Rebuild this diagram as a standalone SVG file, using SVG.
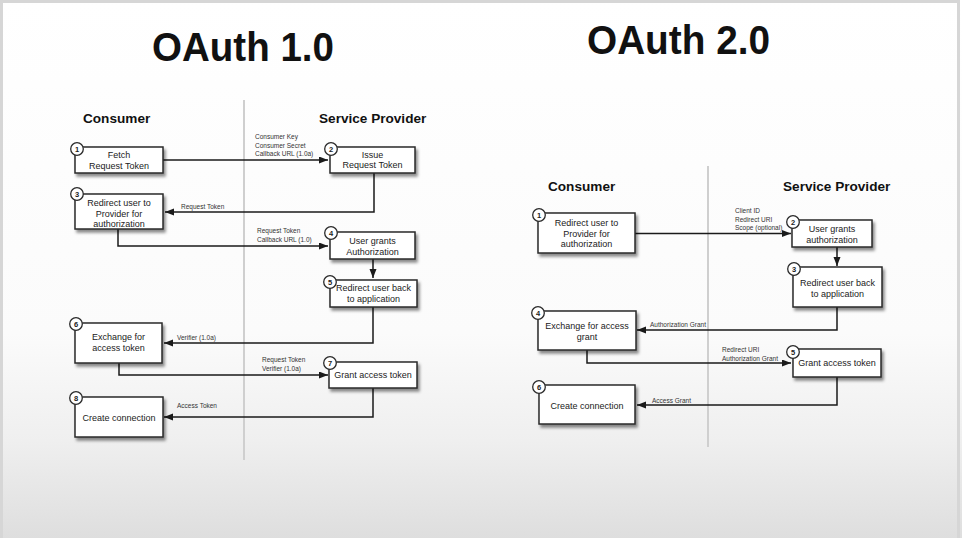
<svg xmlns="http://www.w3.org/2000/svg" width="962" height="538" viewBox="0 0 962 538">
  <defs>
    <linearGradient id="bg" x1="0" y1="0" x2="0" y2="1">
      <stop offset="0" stop-color="#ffffff"/>
      <stop offset="0.62" stop-color="#fbfbfb"/>
      <stop offset="0.82" stop-color="#efefef"/>
      <stop offset="1" stop-color="#dedede"/>
    </linearGradient>
    <filter id="shadow" x="-20%" y="-30%" width="150%" height="180%">
      <feDropShadow dx="2" dy="3" stdDeviation="1.8" flood-color="#000" flood-opacity="0.45"/>
    </filter>
    <marker id="arrow" markerUnits="userSpaceOnUse" markerWidth="10" markerHeight="8" refX="9" refY="3.5" orient="auto">
      <path d="M0,0 L9,3.5 L0,7 z" fill="#1a1a1a"/>
    </marker>
  </defs>
  <style>
    .title { font-family: "Liberation Sans", Arial, sans-serif; font-weight: bold; font-size: 41px; fill: #111; }
    .head { font-family: "Liberation Sans", Arial, sans-serif; font-weight: bold; font-size: 13.6px; fill: #111; }
    .box rect { fill: #fff; stroke: #2a2a2a; stroke-width: 1.5; filter: url(#shadow); }
    .box text { font-family: "Liberation Sans", Arial, sans-serif; font-size: 9px; fill: #222; text-anchor: middle; }
    .box circle { fill: #fff; stroke: #2a2a2a; stroke-width: 1.3; }
    .box .num { font-size: 7.5px; font-weight: bold; }
    .lbl { font-family: "Liberation Sans", Arial, sans-serif; font-size: 6.5px; fill: #333; }
    .conn path { fill: none; stroke: #1a1a1a; stroke-width: 1.5; marker-end: url(#arrow); }
    .divider { stroke: #cfcfcf; stroke-width: 2; }
  </style>

  <!-- backdrop and frame -->
  <rect x="0" y="0" width="962" height="538" fill="url(#bg)"/>
  <rect x="1.5" y="1.5" width="957" height="540" fill="none" stroke="#d6d6d6" stroke-width="3"/>

  <!-- titles -->
  <text class="title" x="152" y="61" textLength="182" lengthAdjust="spacingAndGlyphs">OAuth 1.0</text>
  <text class="title" x="587" y="54" textLength="183" lengthAdjust="spacingAndGlyphs">OAuth 2.0</text>

  <!-- swimlane dividers -->
  <line class="divider" x1="244" y1="100" x2="244" y2="460"/>
  <line class="divider" x1="708" y1="166" x2="708" y2="447"/>

  <!-- lane headings -->
  <text class="head" x="83" y="123">Consumer</text>
  <text class="head" x="319" y="123">Service Provider</text>
  <text class="head" x="548" y="191">Consumer</text>
  <text class="head" x="783" y="191">Service Provider</text>

  <!-- OAuth 1.0 connectors -->
  <g id="connectors-v1" class="conn">
    <path d="M163,160 H328"/>
    <path d="M374,173 V212 H165"/>
    <path d="M118,229 V246 H328"/>
    <path d="M373,259 V278"/>
    <path d="M373,307 V343 H164"/>
    <path d="M119,363 V375 H328"/>
    <path d="M373,388 V417 H164"/>
  </g>
  <g id="labels-v1" class="lbl">
    <text x="255" y="139">Consumer Key</text>
    <text x="255" y="147.5">Consumer Secret</text>
    <text x="255" y="156">Callback URL (1.0a)</text>
    <text x="181" y="209">Request Token</text>
    <text x="257" y="233">Request Token</text>
    <text x="257" y="241.5">Callback URL (1.0)</text>
    <text x="177" y="339.5">Verifier (1.0a)</text>
    <text x="262" y="362">Request Token</text>
    <text x="262" y="370.5">Verifier (1.0a)</text>
    <text x="177" y="407.5">Access Token</text>
  </g>

  <!-- OAuth 1.0 steps -->
  <g id="v1-step1" class="box">
    <rect x="75" y="147" width="88" height="26"/>
    <text x="119" y="158">Fetch</text>
    <text x="119" y="168.5">Request Token</text>
    <circle cx="77" cy="149" r="6.3"/>
    <text class="num" x="77" y="151.7">1</text>
  </g>
  <g id="v1-step2" class="box">
    <rect x="330" y="147" width="85" height="26"/>
    <text x="372.5" y="157.5">Issue</text>
    <text x="372.5" y="168">Request Token</text>
    <circle cx="331" cy="149" r="6.3"/>
    <text class="num" x="331" y="151.7">2</text>
  </g>
  <g id="v1-step3" class="box">
    <rect x="75" y="194" width="88" height="35"/>
    <text x="119" y="206">Redirect user to</text>
    <text x="119" y="216.5">Provider for</text>
    <text x="119" y="227">authorization</text>
    <circle cx="77" cy="194" r="6.3"/>
    <text class="num" x="77" y="196.7">3</text>
  </g>
  <g id="v1-step4" class="box">
    <rect x="330" y="232" width="85" height="27"/>
    <text x="372.5" y="244">User grants</text>
    <text x="372.5" y="254.5">Authorization</text>
    <circle cx="331" cy="233" r="6.3"/>
    <text class="num" x="331" y="235.7">4</text>
  </g>
  <g id="v1-step5" class="box">
    <rect x="330" y="280" width="87" height="27"/>
    <text x="373.5" y="291">Redirect user back</text>
    <text x="373.5" y="301.5">to application</text>
    <circle cx="330" cy="282" r="6.3"/>
    <text class="num" x="330" y="284.7">5</text>
  </g>
  <g id="v1-step6" class="box">
    <rect x="75" y="323" width="87" height="40"/>
    <text x="118.5" y="340">Exchange for</text>
    <text x="118.5" y="351">access token</text>
    <circle cx="76" cy="324" r="6.3"/>
    <text class="num" x="76" y="326.7">6</text>
  </g>
  <g id="v1-step7" class="box">
    <rect x="329" y="362" width="88" height="26"/>
    <text x="373" y="378">Grant access token</text>
    <circle cx="330" cy="363" r="6.3"/>
    <text class="num" x="330" y="365.7">7</text>
  </g>
  <g id="v1-step8" class="box">
    <rect x="75" y="397" width="88" height="40"/>
    <text x="119" y="421">Create connection</text>
    <circle cx="76" cy="398" r="6.3"/>
    <text class="num" x="76" y="400.7">8</text>
  </g>

  <!-- OAuth 2.0 connectors -->
  <g id="connectors-v2" class="conn">
    <path d="M635,233.5 H791"/>
    <path d="M837,247 V266"/>
    <path d="M837,307 V330 H637"/>
    <path d="M587,350 V363 H791"/>
    <path d="M837,377 V405 H637"/>
  </g>
  <g id="labels-v2" class="lbl">
    <text x="735" y="213">Client ID</text>
    <text x="735" y="221.5">Redirect URI</text>
    <text x="735" y="230">Scope (optional)</text>
    <text x="650" y="326.5">Authorization Grant</text>
    <text x="722" y="352">Redirect URI</text>
    <text x="722" y="360.5">Authorization Grant</text>
    <text x="652" y="402.5">Access Grant</text>
  </g>

  <!-- OAuth 2.0 steps -->
  <g id="v2-step1" class="box">
    <rect x="538" y="213" width="97" height="40"/>
    <text x="586.5" y="226">Redirect user to</text>
    <text x="586.5" y="236.5">Provider for</text>
    <text x="586.5" y="247">authorization</text>
    <circle cx="539" cy="215" r="6.3"/>
    <text class="num" x="539" y="217.7">1</text>
  </g>
  <g id="v2-step2" class="box">
    <rect x="792" y="220" width="80" height="27"/>
    <text x="832" y="232">User grants</text>
    <text x="832" y="243">authorization</text>
    <circle cx="793" cy="222" r="6.3"/>
    <text class="num" x="793" y="224.7">2</text>
  </g>
  <g id="v2-step3" class="box">
    <rect x="793" y="267" width="89" height="40"/>
    <text x="837.5" y="286">Redirect user back</text>
    <text x="837.5" y="296.5">to application</text>
    <circle cx="794" cy="269" r="6.3"/>
    <text class="num" x="794" y="271.7">3</text>
  </g>
  <g id="v2-step4" class="box">
    <rect x="538" y="311" width="98" height="39"/>
    <text x="587" y="329">Exchange for access</text>
    <text x="587" y="339.5">grant</text>
    <circle cx="538" cy="313" r="6.3"/>
    <text class="num" x="538" y="315.7">4</text>
  </g>
  <g id="v2-step5" class="box">
    <rect x="793" y="349" width="88" height="28"/>
    <text x="837" y="366">Grant access token</text>
    <circle cx="793" cy="352" r="6.3"/>
    <text class="num" x="793" y="354.7">5</text>
  </g>
  <g id="v2-step6" class="box">
    <rect x="539" y="385" width="96" height="39"/>
    <text x="587" y="409">Create connection</text>
    <circle cx="539" cy="387" r="6.3"/>
    <text class="num" x="539" y="389.7">6</text>
  </g>
</svg>
